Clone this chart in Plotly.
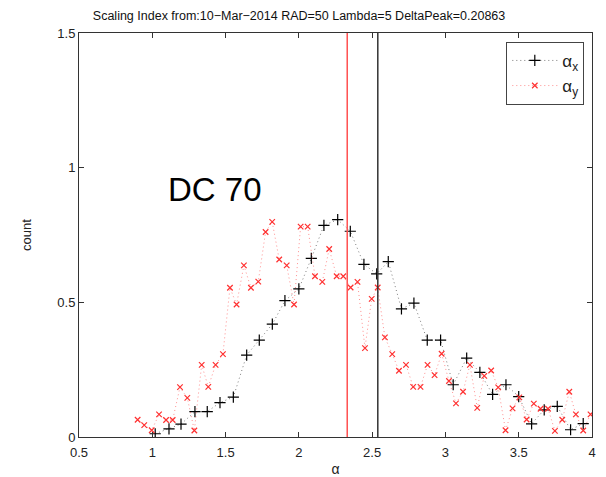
import plotly.graph_objects as go

# ---- data ----
alpha_x_bins = [1.02, 1.114, 1.196, 1.291, 1.375, 1.462, 1.553, 1.644, 1.73, 1.819,
                1.905, 2.0, 2.085, 2.171, 2.265, 2.351, 2.444, 2.531, 2.61, 2.70,
                2.785, 2.876, 2.967, 3.053, 3.145, 3.235, 3.322, 3.413, 3.5, 3.588,
                3.674, 3.763, 3.854, 3.94]
alpha_x_counts = [0.012, 0.030, 0.048, 0.094, 0.094, 0.128, 0.148, 0.304, 0.360, 0.419,
                  0.506, 0.550, 0.663, 0.786, 0.807, 0.764, 0.641, 0.606, 0.651, 0.476,
                  0.497, 0.360, 0.360, 0.194, 0.293, 0.240, 0.158, 0.194, 0.150, 0.049,
                  0.101, 0.114, 0.027, 0.050]

alpha_y_bins = [0.90, 0.945, 0.996, 1.046, 1.094, 1.139, 1.189, 1.239, 1.287, 1.337,
                1.382, 1.432, 1.482, 1.53, 1.575, 1.625, 1.673, 1.723, 1.773, 1.818,
                1.866, 1.917, 1.967, 2.012, 2.06, 2.11, 2.16, 2.207, 2.258, 2.303,
                2.353, 2.40, 2.451, 2.497, 2.538, 2.587, 2.637, 2.683, 2.731, 2.78,
                2.83, 2.878, 2.926, 2.974, 3.024, 3.072, 3.12, 3.167, 3.217, 3.265,
                3.312, 3.36, 3.41, 3.458, 3.504, 3.554, 3.603, 3.649, 3.70, 3.747,
                3.797, 3.845, 3.89, 3.94, 3.99]
alpha_y_counts = [0.064, 0.044, 0.025, 0.084, 0.063, 0.063, 0.185, 0.145, 0.024, 0.268,
                  0.186, 0.268, 0.308, 0.554, 0.492, 0.637, 0.554, 0.577, 0.761, 0.799,
                  0.659, 0.637, 0.492, 0.781, 0.781, 0.597, 0.576, 0.698, 0.597, 0.597,
                  0.555, 0.576, 0.330, 0.513, 0.555, 0.370, 0.308, 0.246, 0.268, 0.186,
                  0.186, 0.268, 0.230, 0.309, 0.208, 0.125, 0.168, 0.268, 0.108, 0.227,
                  0.247, 0.184, 0.025, 0.106, 0.147, 0.065, 0.124, 0.105, 0.105, 0.023,
                  0.064, 0.168, 0.084, 0.024, 0.084]

peak_y = 2.330
delta_peak = 0.20863
peak_x = peak_y + delta_peak

x_ticks = [0.5, 1, 1.5, 2, 2.5, 3, 3.5, 4]
x_tick_labels = ["0.5", "1", "1.5", "2", "2.5", "3", "3.5", "4"]
y_ticks = [0, 0.5, 1, 1.5]
y_tick_labels = ["0", "0.5", "1", "1.5"]

title_text = "Scaling Index from:10\u2212Mar\u22122014 RAD=50 Lambda=5 DeltaPeak=0.20863"

FONT = "Liberation Sans, Arial, sans-serif"

fig = go.Figure()

fig.add_trace(go.Scatter(
    x=alpha_x_bins, y=alpha_x_counts, mode="lines+markers",
    name="\u03b1<sub>x</sub>",
    line=dict(color="rgba(40,40,40,0.6)", width=1, dash="1px,3px"),
    marker=dict(symbol="cross-thin", size=8, color="black",
                line=dict(color="black", width=1.2)),
))
fig.add_trace(go.Scatter(
    x=alpha_y_bins, y=alpha_y_counts, mode="lines+markers",
    name="\u03b1<sub>y</sub>",
    line=dict(color="rgba(255,70,70,0.6)", width=1, dash="1px,3px"),
    marker=dict(symbol="x-thin", size=5.5, color="#ff3030",
                line=dict(color="#ff3030", width=1.2)),
))

# peak lines
fig.add_shape(type="line", xref="x", yref="y", x0=peak_y, x1=peak_y, y0=0, y1=1.5,
              line=dict(color="#ff5050", width=1.5))
fig.add_shape(type="line", xref="x", yref="y", x0=peak_x, x1=peak_x, y0=0, y1=1.5,
              line=dict(color="#333333", width=1.5))

fig.add_annotation(x=1.43, y=0.918, xref="x", yref="y", text="DC 70",
                   showarrow=False, font=dict(family=FONT, size=33, color="black"))

fig.update_layout(
    width=606, height=477,
    margin=dict(l=79, r=14, t=33, b=40, autoexpand=False),
    paper_bgcolor="white", plot_bgcolor="white",
    font=dict(family=FONT, size=13, color="#222222"),
    title=dict(text=title_text, x=0.4935, xanchor="center", y=0.968, yanchor="middle",
               font=dict(family=FONT, size=12.5, color="#111111")),
    showlegend=True,
    legend=dict(x=0.985, y=0.978, xanchor="right", yanchor="top",
                bgcolor="white", bordercolor="#444444", borderwidth=1,
                font=dict(family=FONT, size=17, color="#222222"),
                tracegroupgap=0, itemwidth=45),
)

fig.update_xaxes(range=[0.5, 4], tickvals=x_ticks, ticktext=x_tick_labels,
                 ticks="inside", ticklen=5, tickcolor="#333333",
                 showline=True, linecolor="#333333", linewidth=1, mirror="ticks",
                 showgrid=False, zeroline=False, automargin=False,
                 ticklabelstandoff=3,
                 tickfont=dict(family=FONT, size=13, color="#222222"),
                 title=dict(text="\u03b1", font=dict(family=FONT, size=14, color="#222222"), standoff=8))
fig.update_yaxes(range=[0, 1.5], tickvals=y_ticks, ticktext=y_tick_labels,
                 ticks="inside", ticklen=5, tickcolor="#333333",
                 showline=True, linecolor="#333333", linewidth=1, mirror="ticks",
                 showgrid=False, zeroline=False, automargin=False,
                 tickfont=dict(family=FONT, size=13, color="#222222"),
                 title=dict(text="count", font=dict(family=FONT, size=13, color="#222222"), standoff=22))

fig.write_html("out.html")
